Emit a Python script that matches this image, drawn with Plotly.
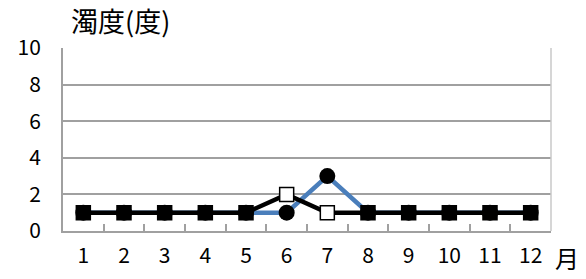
import plotly.graph_objects as go

months = [1, 2, 3, 4, 5, 6, 7, 8, 9, 10, 11, 12]
month_labels = ["1", "2", "3", "4", "5", "6", "7", "8", "9", "10", "11", "12"]
series_blue = [1, 1, 1, 1, 1, 1, 3, 1, 1, 1, 1, 1]
series_black = [1, 1, 1, 1, 1, 2, 1, 1, 1, 1, 1, 1]
square_fill = ["black", "black", "black", "black", "black", "white", "white",
               "black", "black", "black", "black", "black"]
y_ticks = [0, 2, 4, 6, 8, 10]
boundaries = [m + 0.5 for m in months[:-1]]

FONT = "Noto Sans CJK JP, Noto Sans, sans-serif"

fig = go.Figure()
fig.add_trace(go.Scatter(
    x=months, y=series_blue, mode="lines+markers",
    line=dict(color="#4a7ebb", width=4.5),
    marker=dict(symbol="circle", size=16, color="black", line=dict(width=0)),
    showlegend=False,
))
fig.add_trace(go.Scatter(
    x=months, y=series_black, mode="lines+markers",
    line=dict(color="black", width=4.5),
    marker=dict(symbol="square", size=14, color=square_fill,
                line=dict(color="black", width=1.5)),
    showlegend=False,
))
fig.add_trace(go.Scatter(x=[0.5, 12.5], y=[0, 0], xaxis="x2", mode="markers",
                         marker=dict(opacity=0), showlegend=False, hoverinfo="skip"))

fig.update_layout(
    width=586, height=279,
    margin=dict(l=63, r=35, t=48, b=48, autoexpand=False),
    paper_bgcolor="white", plot_bgcolor="white",
    font=dict(family=FONT, size=21, color="black"),
    xaxis=dict(
        range=[0.5, 12.5], tickmode="array", tickvals=months, ticktext=month_labels,
        ticks="", showgrid=False, zeroline=False, automargin=False,
        showline=True, linecolor="#a0a0a0", linewidth=2, mirror=False,
        tickfont=dict(size=21), ticklabelstandoff=5,
    ),
    xaxis2=dict(
        overlaying="x", range=[0.5, 12.5], tickmode="array", tickvals=boundaries,
        ticktext=["" for _ in boundaries], ticks="inside", ticklen=7,
        tickcolor="#a0a0a0", tickwidth=1.5, showgrid=False, zeroline=False,
        showline=False, side="bottom", anchor="y", automargin=False,
    ),
    yaxis=dict(
        range=[0, 10], tickmode="array", tickvals=y_ticks,
        showgrid=True, gridcolor="#a0a0a0", gridwidth=2, zeroline=False,
        showline=True, linecolor="#a0a0a0", linewidth=2, ticks="",
        tickfont=dict(size=21), ticklabelstandoff=16, automargin=False,
    ),
    shapes=[dict(type="line", xref="paper", yref="paper", x0=1, x1=1, y0=0, y1=1,
                 line=dict(color="#c8c8c8", width=1.5))],
    annotations=[
        dict(text="濁度(度)", xref="paper", yref="paper", x=0.012, y=1.0,
             xanchor="left", yanchor="bottom", yshift=6, showarrow=False,
             font=dict(size=27, family=FONT)),
        dict(text="月", xref="paper", yref="paper", x=1.0, y=0.0,
             xanchor="left", yanchor="top", xshift=2, yshift=-7, showarrow=False,
             font=dict(size=24, family=FONT)),
    ],
)

fig.write_html("out.html", config={"displayModeBar": False},
               post_script="document.body.style.margin='0';document.body.style.overflow='hidden';")
